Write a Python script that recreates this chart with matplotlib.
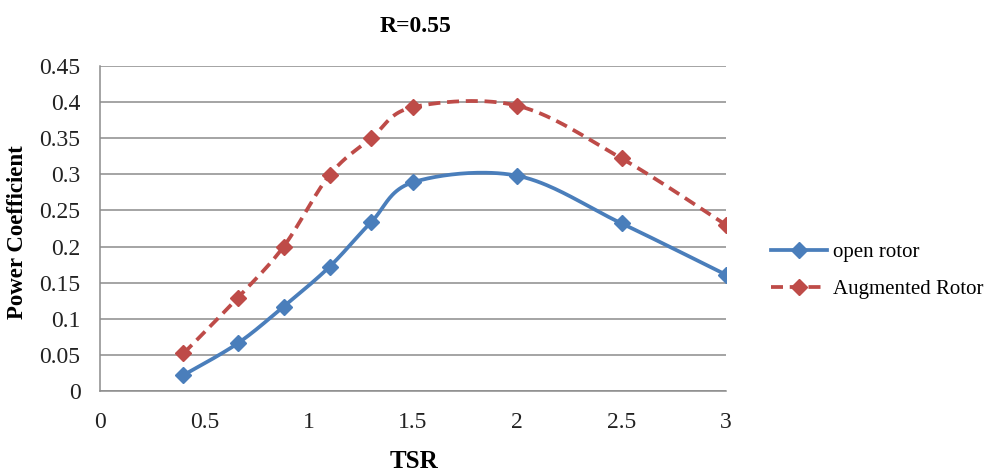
import numpy as np
import matplotlib
matplotlib.use("Agg")
import matplotlib.pyplot as plt
from matplotlib.lines import Line2D

tsr = [0.4, 0.66, 0.88, 1.1, 1.3, 1.5, 2.0, 2.5, 3.0]
open_rotor = [0.022, 0.066, 0.117, 0.172, 0.234, 0.289, 0.298, 0.232, 0.161]
augmented = [0.052, 0.129, 0.200, 0.299, 0.350, 0.393, 0.395, 0.322, 0.230]
xticks = [0, 0.5, 1, 1.5, 2, 2.5, 3]
xtick_labels = ["0", "0.5", "1", "1.5", "2", "2.5", "3"]
yticks = [0, 0.05, 0.1, 0.15, 0.2, 0.25, 0.3, 0.35, 0.4, 0.45]
ytick_labels = ["0", "0.05", "0.1", "0.15", "0.2", "0.25", "0.3", "0.35", "0.4", "0.45"]

plt.rcParams['font.family'] = ['Liberation Serif', 'DejaVu Serif']

XMIN, XMAX, YMIN, YMAX = 0, 3, 0, 0.45


def smooth(xs, ys, n=40):
    # Excel-like smoothing: Bezier segments with Catmull-Rom control points,
    # computed in axis-normalized coordinates
    W, H = 626.0, 325.0
    P = np.column_stack([(np.array(xs) - XMIN) / (XMAX - XMIN) * W,
                         (np.array(ys) - YMIN) / (YMAX - YMIN) * H])
    out = []
    m = len(P)
    for i in range(m - 1):
        p0 = P[i - 1] if i > 0 else P[i]
        p1, p2 = P[i], P[i + 1]
        p3 = P[i + 2] if i + 2 < m else P[i + 1]
        c1 = p1 + (p2 - p0) / 6.0
        c2 = p2 - (p3 - p1) / 6.0
        t = np.linspace(0, 1, n)[:, None]
        seg = ((1 - t) ** 3) * p1 + 3 * ((1 - t) ** 2) * t * c1 + 3 * (1 - t) * t ** 2 * c2 + t ** 3 * p2
        out.append(seg if i == 0 else seg[1:])
    S = np.vstack(out)
    return S[:, 0] / W * (XMAX - XMIN) + XMIN, S[:, 1] / H * (YMAX - YMIN) + YMIN


fig = plt.figure(figsize=(9.92, 4.72), dpi=100)
ax = fig.add_axes([100 / 992, 1 - 391 / 472, 626 / 992, 325 / 472])

blue = "#4a7ebb"
red = "#be4b48"
LW = 2.7
MS = 8.5
DASH = (0, (3.2, 1.8))

sx, sy = smooth(tsr, open_rotor)
ax.plot(sx, sy, color=blue, lw=LW, solid_capstyle='round', zorder=3)
ax.plot(tsr, open_rotor, linestyle='none', marker='D', ms=MS, color=blue, zorder=4)

sx, sy = smooth(tsr, augmented)
ax.plot(sx, sy, color=red, lw=LW, linestyle=DASH, zorder=3)
ax.plot(tsr, augmented, linestyle='none', marker='D', ms=MS, color=red, zorder=4)

ax.set_xlim(XMIN, XMAX)
ax.set_ylim(YMIN, YMAX)
ax.set_xticks(xticks)
ax.set_xticklabels(xtick_labels)
ax.set_yticks(yticks)
ax.set_yticklabels(ytick_labels)
ax.tick_params(axis='both', length=0, labelsize=17, colors='#222222')
ax.tick_params(axis='x', pad=15)
ax.tick_params(axis='y', pad=14)
ax.grid(axis='y', color='#8c8c8c', lw=1.1)
ax.set_axisbelow(True)
for s in ['top', 'right']:
    ax.spines[s].set_visible(False)
for s in ['left', 'bottom']:
    ax.spines[s].set_color('#8c8c8c')
    ax.spines[s].set_linewidth(1.1)

fig.text(416 / 992, 1 - 27 / 472, "R=0.55", ha='center', va='center', fontsize=17, fontweight='bold')
fig.text(414 / 992, 1 - 461 / 472, "TSR", ha='center', va='center', fontsize=18, fontweight='bold')
fig.text(18 / 992, 1 - 232 / 472, "Power Coefficient", ha='center', va='center', rotation=90,
         fontsize=16.5, fontweight='bold')

handles = [
    Line2D([], [], color=blue, lw=LW, marker='D', ms=MS),
    Line2D([], [], color=red, lw=LW, linestyle=DASH, marker='D', ms=MS),
]
fig.legend(handles, ["open rotor", "Augmented Rotor"], loc='center left',
           bbox_to_anchor=(752 / 992, 1 - 271 / 472), frameon=False, fontsize=15,
           handlelength=2.7, handletextpad=0.3, labelspacing=0.85)

fig.savefig("out.png", dpi=100)
